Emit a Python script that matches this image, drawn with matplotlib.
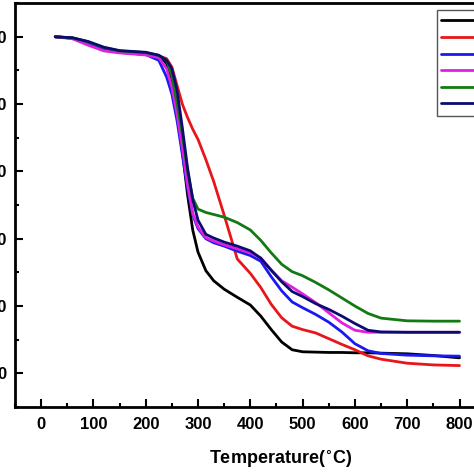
import matplotlib
matplotlib.use("Agg")
import matplotlib.pyplot as plt
from matplotlib.ticker import MultipleLocator

plt.rcParams['font.family'] = ['Liberation Sans', 'DejaVu Sans']
plt.rcParams['font.weight'] = 'bold'

# === DATA ===
temp = [27, 60, 90, 120, 150, 200, 225, 240, 250, 260, 270, 280, 290, 300, 315,
        330, 350, 375, 400, 420, 440, 460, 480, 500, 525, 550, 575, 600, 625,
        650, 700, 750, 800]

w_black = [100, 99.6, 98.3, 96.5, 95.6, 95.0, 94.3, 92, 87, 78, 66, 53, 42.5, 36, 30.5,
           27.5, 25, 22.6, 20.3, 17, 13, 9.3, 7.0, 6.4, 6.3, 6.2, 6.2, 6.1, 6.1,
           6.0, 5.8, 5.3, 4.6]
w_red = [100, 99.6, 98.0, 96.2, 95.4, 94.8, 94.3, 93.5, 91, 85.5, 80, 76, 72.5, 69.5, 63.5,
         57, 47, 34, 29.7, 25.5, 20.5, 16.5, 14, 13, 12, 10.3, 8.6, 7.0, 5.2,
         4.2, 3.0, 2.5, 2.3]
w_blue = [100, 99.6, 98.0, 96.2, 95.4, 94.7, 93, 88, 83, 75, 65, 55, 47, 43, 40,
          38.8, 37.8, 36.3, 35, 33.3, 28.7, 24.5, 21.2, 19.5, 17.5, 15.2, 12.3, 8.8, 6.7,
          5.9, 5.4, 5.2, 5.1]
w_magenta = [100, 99.4, 97.5, 95.8, 95.2, 94.6, 93.8, 90.5, 85, 77, 67, 56, 47.5, 43.5, 40.3,
             39.3, 38.2, 37, 35.8, 34.3, 30.7, 27.5, 25.6, 23.6, 21.0, 18, 15, 12.8, 12.2,
             12.2, 12.2, 12.2, 12.2]
w_green = [100, 99.7, 98.5, 96.8, 95.8, 95.3, 94.5, 93, 88.5, 80, 71, 60, 52, 48.8, 47.8,
           47.2, 46.4, 44.8, 42.6, 39.5, 35.8, 32.4, 30.2, 29, 27, 24.8, 22.4, 20, 17.8,
           16.4, 15.6, 15.5, 15.5]
w_navy = [100, 99.7, 98.6, 96.9, 95.9, 95.4, 94.5, 93, 90.5, 84, 73, 61, 51.5, 45.5, 41.3,
          40.2, 39, 37.8, 36.4, 34.2, 30.6, 27.2, 24.3, 22.8, 20.7, 19, 17, 14.8, 12.8,
          12.3, 12.2, 12.2, 12.2]

labels = ['a', 'b', 'c', 'd', 'e', 'f']
colors = ['#000000', '#e8161b', '#1a1af0', '#e020e0', '#137a13', '#0c0c70']
series = [w_black, w_red, w_blue, w_magenta, w_green, w_navy]

# === PLOT ===
fig = plt.figure(figsize=(4.74, 4.74), dpi=100)
ax = fig.add_axes([0.0316, 0.1414, 0.993, 0.852])

for w, c, lab in zip(series, colors, labels):
    ax.plot(temp, w, color=c, lw=2.0, label=lab, solid_capstyle='round',
            solid_joinstyle='round')

ax.set_xlim(-50, 850)
ax.set_ylim(-10, 110)
ax.xaxis.set_major_locator(MultipleLocator(100))
ax.xaxis.set_minor_locator(MultipleLocator(50))
ax.yaxis.set_major_locator(MultipleLocator(20))
ax.yaxis.set_minor_locator(MultipleLocator(10))
ax.tick_params(which='both', direction='in', width=1.5, labelsize=12)
ax.tick_params(which='major', length=6)
ax.tick_params(which='minor', length=3)
ax.tick_params(axis='x', pad=7)
ax.tick_params(axis='y', pad=6)
for s in ax.spines.values():
    s.set_linewidth(2)

ax.set_xlabel('Temperature($^{\\circ}$C)', fontsize=13, fontweight='bold',
              labelpad=12, x=0.564)

leg = ax.legend(loc='upper left', bbox_to_anchor=(437 / 474, 1 - 10 / 474),
                bbox_transform=fig.transFigure, fontsize=10, labelspacing=0.19,
                borderpad=0.3, handlelength=3, fancybox=False, framealpha=1,
                borderaxespad=0)
leg.get_frame().set_edgecolor('#555555')
leg.get_frame().set_linewidth(1)

fig.savefig('out.png', dpi=100)
